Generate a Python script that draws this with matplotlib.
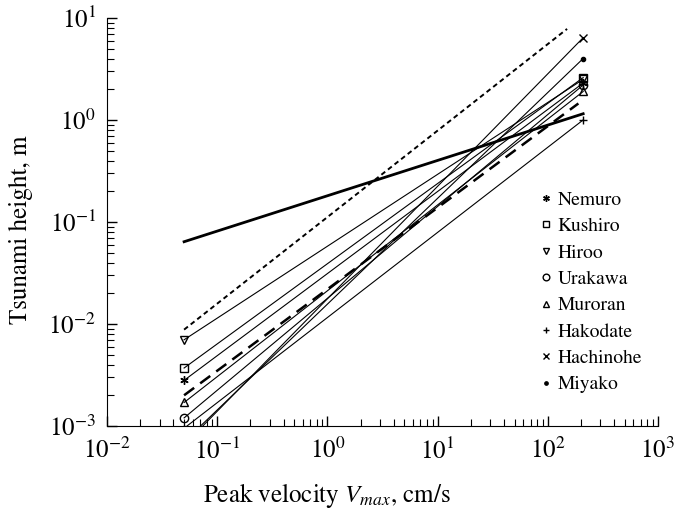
import numpy as np
import matplotlib
matplotlib.use('Agg')
import matplotlib.pyplot as plt

plt.rcParams['font.family'] = ['STIXGeneral', 'DejaVu Serif']
plt.rcParams['mathtext.fontset'] = 'stix'

## station data: height at the two peak velocities
v_ends = [0.05, 210]
stations = ['Nemuro', 'Kushiro', 'Hiroo', 'Urakawa', 'Muroran', 'Hakodate', 'Hachinohe', 'Miyako']
h_low = [0.0028, 0.0037, 0.0070, 0.0012, 0.0017, 0.00095, 0.00065, 0.0007]
h_high = [2.3, 2.6, 2.5, 2.2, 1.9, 1.0, 6.4, 4.0]
markers = [(6, 2, 0), 's', 'v', 'o', '^', '+', 'x', '.']

## fitted relations
thick_v = [0.05, 210]
thick_h = [0.064, 1.15]
dash_v = [0.05, 190]
dash_h = [0.002, 1.45]
dot_v = [0.05, 150]
dot_h = [0.0088, 7.8]

fig = plt.figure(figsize=(6.91, 5.12), dpi=100)
ax = fig.add_axes([0.155, 0.168, 0.797, 0.797])

handles = []
for name, y0, y1, m in zip(stations, h_low, h_high, markers):
    ax.plot(v_ends, [y0, y1], color='black', lw=0.8)
    h, = ax.plot(v_ends, [y0, y1], linestyle='none', marker=m, color='black',
                 markersize=6, markerfacecolor='none' if m in ['s', 'v', 'o', '^'] else 'black',
                 markeredgewidth=1.0, label=name)
    handles.append(h)

ax.plot(thick_v, thick_h, color='black', lw=2.0)
ax.plot(dash_v, dash_h, color='black', lw=1.8, dashes=(5, 3))
ax.plot(dot_v, dot_h, color='black', lw=1.4, dashes=(2.5, 1.8))

ax.set_xscale('log')
ax.set_yscale('log')
ax.set_xlim(1e-2, 1e3)
ax.set_ylim(1e-3, 1e1)

ax.spines['top'].set_visible(False)
ax.spines['right'].set_visible(False)
ax.tick_params(which='both', direction='in', labelsize=18, color='black')
ax.tick_params(which='major', length=7, width=1)
ax.tick_params(which='minor', length=5, width=0.8)
ax.tick_params(axis='x', pad=9)
ax.tick_params(axis='y', pad=8)

ax.set_xlabel('Peak velocity $V_{max}$, cm/s', fontsize=18)
ax.set_ylabel('Tsunami height, m', fontsize=18)
ax.xaxis.set_label_coords(0.40, -0.135)
ax.yaxis.set_label_coords(-0.135, 0.48)

leg = ax.legend(handles=handles, loc='upper left', bbox_to_anchor=(0.755, 0.618),
                frameon=False, fontsize=14, handlelength=0.6, handletextpad=0.3,
                labelspacing=0.45, markerscale=0.8)

fig.savefig('out.png', dpi=100)
